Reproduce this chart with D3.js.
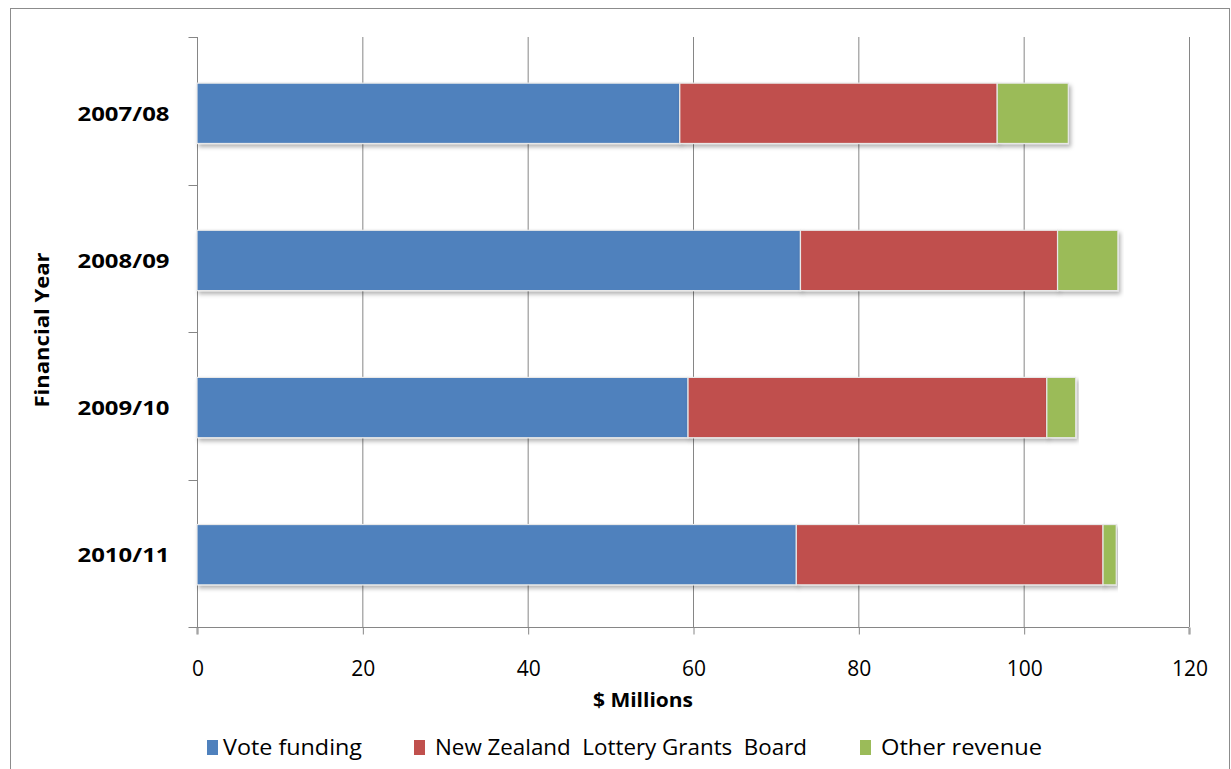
<!DOCTYPE html>
<html><head><meta charset="utf-8">
<script src="https://cdn.jsdelivr.net/npm/d3@7"></script>
<style>body{margin:0;background:#fff}svg{display:block}text{font-family:"Open Sans",sans-serif;fill:#000}</style>
</head><body><svg id="c" width="1231" height="769"></svg>
<script>
const categories = ["2007/08","2008/09","2009/10","2010/11"];
const seriesNames = ["Vote funding","New Zealand  Lottery Grants  Board","Other revenue"];
const voteFunding = [58.4, 73.0, 59.4, 72.5];
const lotteryGrants = [38.4, 31.1, 43.4, 37.1];
const otherRevenue = [8.6, 7.3, 3.5, 1.6];
const xTicks = [0,20,40,60,80,100,120];
const colors = ["#4F81BD","#C0504D","#9BBB59"];

const svg = d3.select("#c");
const defs = svg.append("defs");
const f = defs.append("filter").attr("id","sh").attr("x","-5%").attr("y","-20%").attr("width","115%").attr("height","160%");
f.append("feDropShadow").attr("dx",2).attr("dy",3).attr("stdDeviation",2).attr("flood-color","#000").attr("flood-opacity",0.3);

svg.append("rect").attr("x",10.5).attr("y",8.5).attr("width",1219).attr("height",775).attr("fill","none").attr("stroke","#8c8c8c").attr("stroke-width",1);

const m = {left:197, right:1189, top:37, bottom:627};
const x = d3.scaleLinear().domain([0,120]).range([m.left,m.right]);
const y = d3.scaleBand().domain(categories).range([m.top+2,m.bottom+2]).paddingInner(0.59).paddingOuter(0.3);
const yb = d3.scaleBand().domain(categories).range([m.top,m.bottom]);

// gridlines
svg.append("g").selectAll("line").data(xTicks.slice(1)).join("line")
  .attr("x1",d=>x(d)+0.5).attr("x2",d=>x(d)+0.5).attr("y1",m.top).attr("y2",m.bottom)
  .attr("stroke","#868686").attr("stroke-width",1);

// x axis
const xa = svg.append("g").attr("transform",`translate(0.5,${m.bottom+0.5})`)
  .call(d3.axisBottom(x).tickValues(xTicks).tickSize(7).tickPadding(24).tickFormat(d3.format("d")));
xa.select(".domain").attr("stroke","#868686").attr("d",`M${m.left-0.5},7V0H${m.right-0.5}V7`);
xa.selectAll(".tick line").attr("stroke","#868686");
xa.selectAll(".tick text").attr("font-size",21).attr("font-family","'Open Sans',sans-serif").attr("dy","0.32em").attr("y",42);

// y axis
const ya = svg.append("g").attr("transform",`translate(${m.left+0.5},0)`);
ya.append("line").attr("x1",0).attr("x2",0).attr("y1",m.top).attr("y2",m.bottom).attr("stroke","#868686");
const yt = [m.top].concat(categories.map(c=>yb(c)+yb.bandwidth()));
ya.selectAll("line.t").data(yt).join("line").attr("class","t")
  .attr("x1",-9).attr("x2",0).attr("y1",d=>Math.round(d)+0.5).attr("y2",d=>Math.round(d)+0.5).attr("stroke","#868686");
ya.selectAll("text").data(categories).join("text")
  .attr("x",-28).attr("y",d=>y(d)+y.bandwidth()/2).attr("dy","0.36em")
  .attr("text-anchor","end").attr("font-size",20).attr("font-weight","bold")
  .attr("textLength",92).attr("lengthAdjust","spacingAndGlyphs").text(d=>d);

// stacked bars
const rows = categories.map((c,i)=>({cat:c, v0:voteFunding[i], v1:lotteryGrants[i], v2:otherRevenue[i]}));
const stack = d3.stack().keys(["v0","v1","v2"])(rows);
svg.append("g").selectAll("g").data(stack).join("g").attr("fill",(d,i)=>colors[i])
  .selectAll("rect").data(d=>d).join("rect")
  .attr("x",d=>x(d[0])).attr("width",d=>x(d[1])-x(d[0]))
  .attr("y",d=>y(d.data.cat)).attr("height",y.bandwidth())
  .attr("stroke","#e8e8e8").attr("stroke-width",1.2).attr("filter","url(#sh)");

// axis titles
svg.append("text").attr("x",643).attr("y",700).attr("dy","0.35em").attr("text-anchor","middle").attr("font-size",20).attr("font-weight","bold")
  .attr("textLength",100).attr("lengthAdjust","spacingAndGlyphs").text("$ Millions");
svg.append("text").attr("transform","translate(42,330) rotate(-90)").attr("dy","0.35em").attr("text-anchor","middle")
  .attr("font-size",19).attr("font-weight","bold").attr("font-family","'Liberation Sans',Arial,sans-serif")
  .attr("textLength",155).attr("lengthAdjust","spacingAndGlyphs").text("Financial Year");

// legend
const legX = [207, 414, 860];
const legW = [139, 372, 161];
const lg = svg.append("g").selectAll("g").data(seriesNames).join("g").attr("transform",(d,i)=>`translate(${legX[i]},748)`);
lg.append("rect").attr("x",0).attr("y",-8).attr("width",11).attr("height",15).attr("fill",(d,i)=>colors[i]);
lg.append("text").attr("x",(d,i)=>i==0?16:21).attr("y",0).attr("dy","0.33em").attr("font-size",22)
  .attr("xml:space","preserve").style("white-space","pre")
  .attr("textLength",(d,i)=>legW[i]).attr("lengthAdjust","spacingAndGlyphs").text(d=>d);
</script></body></html>
